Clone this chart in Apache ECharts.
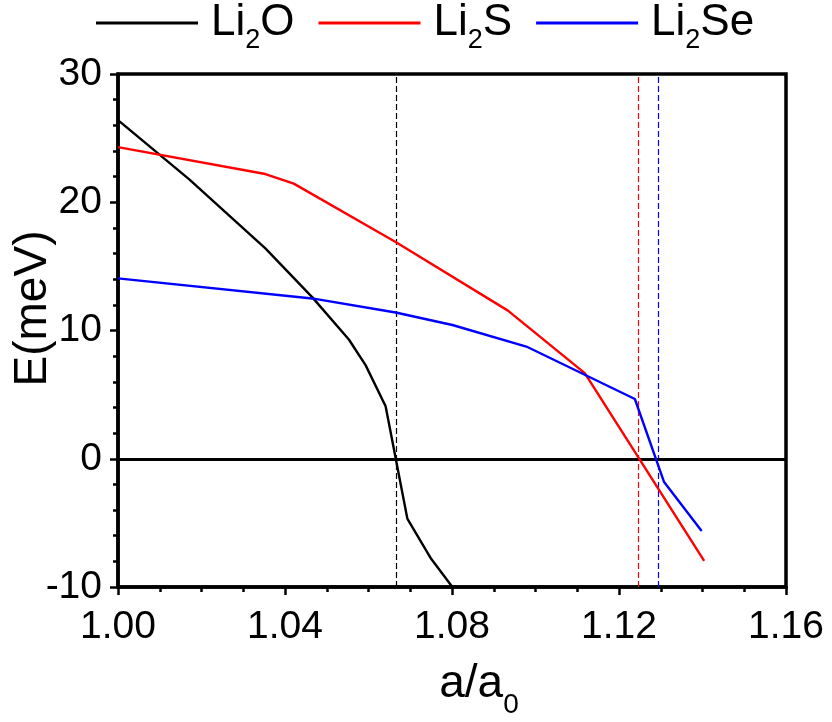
<!DOCTYPE html>
<html>
<head>
<meta charset="utf-8">
<script src="https://cdn.jsdelivr.net/npm/echarts@6/dist/echarts.min.js"></script>
<style>
html,body{margin:0;padding:0;background:#fff;}
#chart{width:832px;height:722px;}
</style>
</head>
<body>
<div id="chart"></div>
<script>
// ---- data ----
const seriesNames = ['Li2O', 'Li2S', 'Li2Se'];
const legendLabels = ['Li{s|2}O', 'Li{s|2}S', 'Li{s|2}Se'];
const li2oX = [1.000, 1.017, 1.0353, 1.0465, 1.0553, 1.0593, 1.0641, 1.0693, 1.0750, 1.0801];
const li2oY = [26.4, 21.8, 16.4, 12.6, 9.3, 7.3, 4.1, -4.66, -7.8, -10.0];
const li2sX = [1.000, 1.0353, 1.0421, 1.0665, 1.0934, 1.1118, 1.1404];
const li2sY = [24.3, 22.2, 21.45, 16.9, 11.55, 6.68, -7.96];
const li2seX = [1.000, 1.0465, 1.0665, 1.0801, 1.0978, 1.1118, 1.1238, 1.1308, 1.1398];
const li2seY = [14.06, 12.5, 11.4, 10.43, 8.75, 6.55, 4.66, -1.82, -5.63];
const crossings = [1.0666, 1.1245, 1.1294];   // dashed vertical markers (zero crossings)
const xTicks = [1.00, 1.04, 1.08, 1.12, 1.16];
const yTicks = [-10, 0, 10, 20, 30];
const colors = ['#000000', '#ff0000', '#0000ff'];

function pairs(xs, ys) { return xs.map((x, i) => [x, ys[i]]); }
const allData = [pairs(li2oX, li2oY), pairs(li2sX, li2sY), pairs(li2seX, li2seY)];

const FONT = 'Liberation Sans';
const chart = echarts.init(document.getElementById('chart'), null, {renderer: 'canvas'});

const series = seriesNames.map((name, i) => ({
  name: name,
  type: 'line',
  data: allData[i],
  symbol: 'none',
  lineStyle: {color: colors[i], width: 2.4},
  itemStyle: {color: colors[i]},
  z: 5,
  markLine: {
    silent: true,
    precision: 4,
    symbol: ['none', 'none'],
    label: {show: false},
    lineStyle: {color: colors[i], type: [6, 3], width: 1.2},
    data: [{xAxis: crossings[i]}]
  }
}));
// zero line
series.push({
  type: 'line', data: [], name: 'zero',
  markLine: {
    silent: true, symbol: ['none', 'none'], label: {show: false},
    lineStyle: {color: '#000', type: 'solid', width: 3},
    data: [{yAxis: 0}]
  }
});

const option = {
  animation: false,
  backgroundColor: '#fff',
  color: colors,
  grid: {left: 118, right: 46, top: 74, bottom: 135, containLabel: false, outerBoundsMode: 'none',
    show: true, borderColor: '#000', borderWidth: 3.5, backgroundColor: 'transparent'},
  legend: {
    data: seriesNames,
    left: 91, top: -4,
    itemWidth: 102, itemHeight: 3,
    itemGap: 24,
    icon: 'rect',
    formatter: function (name) { return legendLabels[seriesNames.indexOf(name)]; },
    textStyle: {
      fontFamily: FONT, fontSize: 44, color: '#000', padding: [0, 0, 0, 8],
      rich: {s: {fontFamily: FONT, fontSize: 27, color: '#000', verticalAlign: 'bottom', lineHeight: 62}}
    }
  },
  xAxis: {
    type: 'value', min: 1.00, max: 1.16, interval: 0.04,
    name: 'a/a{s|0}', nameLocation: 'middle', nameGap: 62, nameMoveOverlap: false,
    nameTextStyle: {fontFamily: FONT, fontSize: 46, color: '#000', padding: [0, 0, 0, 54],
      rich: {s: {fontFamily: FONT, fontSize: 28, color: '#000', verticalAlign: 'bottom', lineHeight: 70}}},
    axisLine: {show: true, onZero: false, lineStyle: {color: '#000', width: 3.5}},
    axisTick: {show: true, length: 8, lineStyle: {color: '#000', width: 2.5}},
    minorTick: {show: true, splitNumber: 4, length: 5, lineStyle: {color: '#000', width: 2.5}},
    splitLine: {show: false},
    axisLabel: {fontFamily: FONT, fontSize: 39, color: '#000', margin: 21,
      formatter: v => xTicks.some(t => Math.abs(t - v) < 1e-9) ? v.toFixed(2) : ''}
  },
  yAxis: {
    type: 'value', min: -10, max: 30, interval: 10,
    name: 'E(meV)', nameLocation: 'middle', nameGap: 62, nameMoveOverlap: false,
    nameTextStyle: {fontFamily: FONT, fontSize: 46, color: '#000', padding: [0, 0, 0, 44]},
    axisLine: {show: true, onZero: false, lineStyle: {color: '#000', width: 3.5}},
    axisTick: {show: true, length: 8, lineStyle: {color: '#000', width: 2.5}},
    minorTick: {show: true, splitNumber: 5, length: 5, lineStyle: {color: '#000', width: 2.5}},
    splitLine: {show: false},
    axisLabel: {fontFamily: FONT, fontSize: 39, color: '#000', margin: 16,
      formatter: v => yTicks.includes(v) ? String(v) : ''}
  },
  series: series
};
chart.setOption(option);
</script>
</body>
</html>
